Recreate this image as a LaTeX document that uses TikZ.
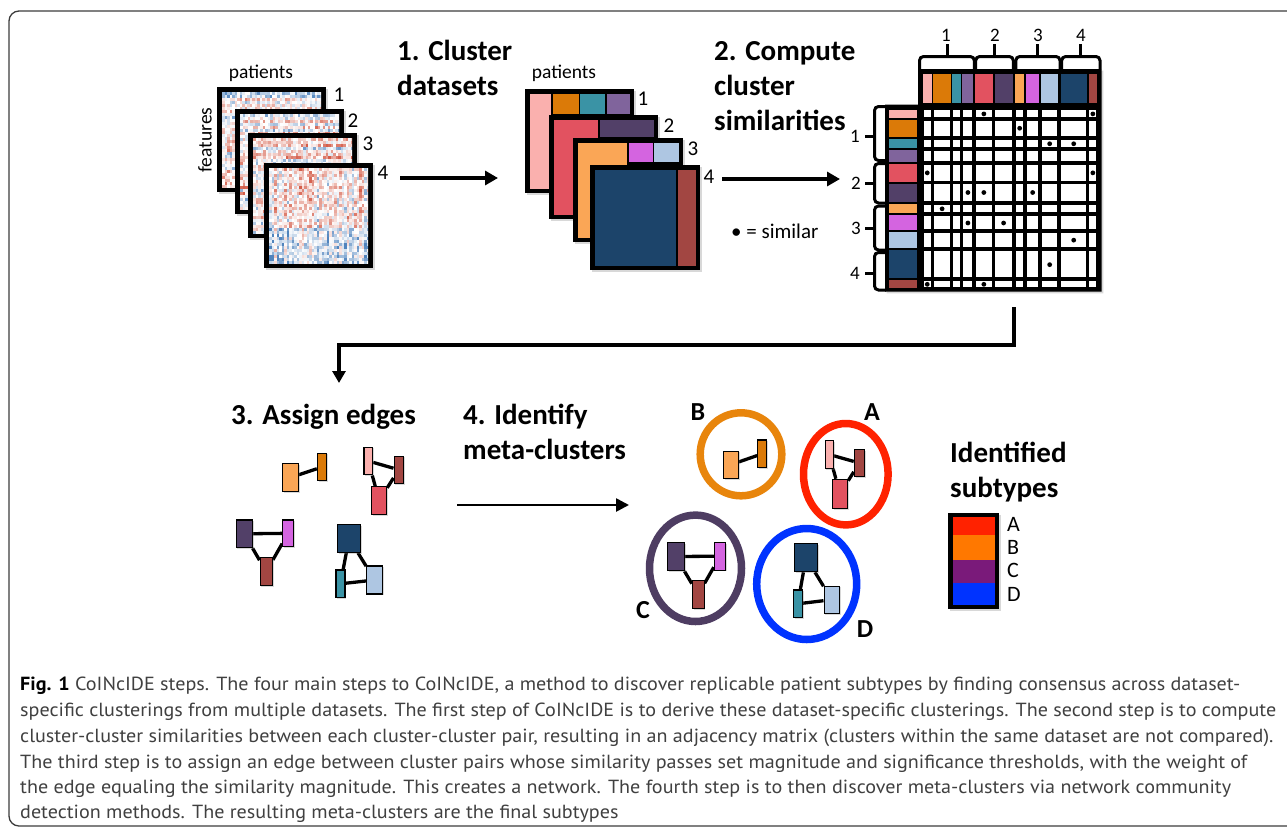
\documentclass[tikz,border=0pt]{standalone}
\usepackage{fontspec}
\setmainfont{Carlito}
\newfontfamily\capfont{PT Sans}
\usetikzlibrary{arrows.meta,shadows}
\pgfdeclarelayer{bg}
\pgfdeclarelayer{edges}
\pgfsetlayers{bg,edges,main}

\definecolor{hmred}{RGB}{205,65,42}
\definecolor{hmblue}{RGB}{50,110,178}
\definecolor{cpink}{RGB}{250,176,174}
\definecolor{corange}{RGB}{219,122,8}
\definecolor{cteal}{RGB}{58,147,165}
\definecolor{cpurple}{RGB}{128,100,156}
\definecolor{cred}{RGB}{226,82,96}
\definecolor{cdpurple}{RGB}{82,64,104}
\definecolor{clorange}{RGB}{250,166,86}
\definecolor{cmagenta}{RGB}{212,100,224}
\definecolor{clblue}{RGB}{174,198,226}
\definecolor{cnavy}{RGB}{28,68,106}
\definecolor{cbrown}{RGB}{162,70,66}
\definecolor{ringA}{RGB}{255,34,0}
\definecolor{ringB}{RGB}{232,133,12}
\definecolor{ringC}{RGB}{78,61,98}
\definecolor{ringD}{RGB}{0,51,255}
\definecolor{legA}{RGB}{255,34,0}
\definecolor{legB}{RGB}{255,120,0}
\definecolor{legC}{RGB}{122,26,122}
\definecolor{legD}{RGB}{0,51,255}
\definecolor{captxt}{RGB}{64,64,64}
\definecolor{framec}{RGB}{60,60,60}

\newlength\capw

% heatmap with row streaks (interior 99 x 95)
\newcommand{\heatrows}[2]{%
  \begin{scope}
    \clip (#1,#2) rectangle ++(99,95);
    \foreach \rr in {0,...,31}{%
      \pgfmathsetmacro\rb{0.5*rand+0.05}%
      \foreach \cc in {0,...,39}{%
        \pgfmathsetmacro\hv{\rb+0.6*rand}%
        \pgfmathtruncatemacro\hp{min(85,48*abs(\hv)+28*\hv*\hv)}%
        \ifdim\hv pt>0pt\def\hc{hmred}\else\def\hc{hmblue}\fi
        \fill[\hc!\hp!white] ({#1+2.5*\cc},{#2+3*\rr}) rectangle ++(2.7,3.2);
      }%
    }%
  \end{scope}%
}
% heatmap with column streaks
\newcommand{\heatcols}[2]{%
  \begin{scope}
    \clip (#1,#2) rectangle ++(99,95);
    \foreach \cc in {0,...,39}{%
      \pgfmathsetmacro\cb{0.45*rand}%
      \foreach \rr in {0,...,31}{%
        \pgfmathsetmacro\hv{\cb+0.6*rand+0.15-0.5*(\rr>19)}%
        \pgfmathtruncatemacro\hp{min(85,48*abs(\hv)+28*\hv*\hv)}%
        \ifdim\hv pt>0pt\def\hc{hmred}\else\def\hc{hmblue}\fi
        \fill[\hc!\hp!white] ({#1+2.5*\cc},{#2+3*\rr}) rectangle ++(2.7,3.2);
      }%
    }%
  \end{scope}%
}

\tikzset{
  arr/.style={line width=3.2pt, -{Triangle[length=13pt,width=14pt]}},
  shd/.style={drop shadow={shadow xshift=1.6pt,shadow yshift=-1.6pt,opacity=0.3}},
  clu/.style 2 args={draw=black, line width=1.1pt, inner sep=0pt, minimum width=#1pt, minimum height=#2pt,
    drop shadow={shadow xshift=1.2pt,shadow yshift=-1.2pt,opacity=0.3}},
  nlink/.style={line width=3.3pt, black},
  steplbl/.style={font=\fontsize{29}{34}\selectfont\bfseries, anchor=base west, inner sep=0pt},
  smalltxt/.style={font=\fontsize{19.5}{23}\selectfont, inner sep=0pt},
  numtxt/.style={font=\fontsize{21}{25}\selectfont, inner sep=0pt},
  mtxnum/.style={font=\fontsize{19}{23}\selectfont, inner sep=0pt},
  metalbl/.style={font=\fontsize{26}{30}\selectfont\bfseries, inner sep=0pt},
  legtxt/.style={font=\fontsize{22}{26}\selectfont, anchor=west, inner sep=0pt},
  captext/.style={font=\capfont\fontsize{19}{22}\selectfont, text=captxt, anchor=base west, inner sep=0pt},
  brk/.style={line width=3pt, rounded corners=4pt},
  ring/.style={line width=7.5pt},
}

\begin{document}
\settowidth{\capw}{\capfont\fontsize{19}{22}\selectfont specific clusterings from multiple datasets. The first step of CoINcIDE is to derive these dataset-specific clusterings. The second step is to compute}%
\pgfmathsetmacro\capsf{1256/\capw}%
\begin{tikzpicture}[x=1pt,y=-1pt]
\useasboundingbox (0,0) rectangle (1287,828);
\begin{pgfonlayer}{bg}
  \fill[white] (0,0) rectangle (1287,828);
\end{pgfonlayer}
\pgfmathsetseed{23}

% outer frame
\draw[framec, line width=1.3pt, rounded corners=10pt] (1300,11) -- (9,11) -- (9,826) -- (1300,826);

% ---------- step 0: heatmaps ----------
\fill[black, shd] (217,87) rectangle ++(109,105);
\heatrows{222}{92}
\fill[black, shd] (235,109) rectangle ++(109,105);
\heatrows{240}{114}
\fill[black, shd] (248,133) rectangle ++(109,105);
\heatrows{253}{138}
\fill[black, shd] (264,163) rectangle ++(109,105);
\heatcols{269}{168}

\node[smalltxt] (pat1) at (261,73) {patients};
\node[smalltxt, rotate=90] (feat) at (205,140) {features};
\node[numtxt] (h1) at (339,95) {1};
\node[numtxt] (h2) at (353,121) {2};
\node[numtxt] (h3) at (368,144) {3};
\node[numtxt] (h4) at (383,173) {4};

% ---------- step 1: clustered datasets ----------
\fill[black, shd] (525,89) rectangle (634,193);
\fill[cpink] (529.5,93.5) rectangle (551.3,189);
\fill[corange] (552.5,93.5) rectangle (579,114);
\fill[cteal] (580.3,93.5) rectangle (605.3,114);
\fill[cpurple] (606.7,93.5) rectangle (629.5,114);

\fill[black, shd] (549,115) rectangle (658,219);
\fill[cred] (553.5,119.5) rectangle (598.3,215);
\fill[cdpurple] (599.8,119.5) rectangle (653.5,137.3);

\fill[black, shd] (573,138) rectangle (683,242);
\fill[clorange] (577.5,142.5) rectangle (627.3,238);
\fill[cmagenta] (628.7,142.5) rectangle (652.7,161.7);
\fill[clblue] (654,142.5) rectangle (678.5,161.7);

\fill[black, shd] (590,165) rectangle (700,270);
\fill[cnavy] (594.5,169.5) rectangle (676,265.5);
\fill[cbrown] (677.5,169.5) rectangle (695.5,265.5);

\node[smalltxt] (pat2) at (564,73) {patients};
\node[numtxt] (c1) at (643,99) {1};
\node[numtxt] (c2) at (669,126) {2};
\node[numtxt] (c3) at (693,149) {3};
\node[numtxt] (c4) at (709,177) {4};

% step labels
\node[steplbl] (s1a) at (397,60) {1. Cluster};
\node[steplbl] (s1b) at (397,95) {datasets};
\node[steplbl] (s2a) at (714,60) {2. Compute};
\node[steplbl] (s2b) at (714,95) {cluster};
\node[steplbl] (s2c) at (714,130) {similarities};

% arrows step 1 and 2
\coordinate (a1s) at (400,178);
\coordinate (a1e) at (498,178);
\draw[arr] (a1s) -- (a1e);
\coordinate (a2s) at (722,179);
\coordinate (a2e) at (840,179);
\draw[arr] (a2s) -- (a2e);

\node[smalltxt, font=\fontsize{21}{25}\selectfont, anchor=west] (simlbl) at (731,231) {• = similar};

% ---------- step 2: similarity matrix ----------
\fill[black, shd] (918,69) -- (1101.7,69) -- (1101.7,291.7) -- (885,291.7) -- (885,104.5) -- (918,104.5) -- cycle;
\foreach \a/\b/\c in {923/931.5/cpink, 933.4/950.7/corange, 952.4/960.7/cteal, 962.4/973.3/cpurple,
                      975/992.7/cred, 994.5/1012.7/cdpurple, 1014.9/1024.3/clorange, 1026/1039.3/cmagenta,
                      1041/1058.3/clblue, 1060.5/1086.7/cnavy, 1088.5/1097/cbrown}{
  \fill[\c] (\a,74) rectangle (\b,103.3);
  \foreach \p/\q in {109.5/118.3, 120/137, 139.3/148.3, 150/161.7, 163.8/181.7, 183.5/201.7,
                     203.8/213.3, 215.3/230, 232/248.3, 250.3/278.3, 280.3/288.3}{
    \fill[white] ({\a+0.9},{\p+0.9}) rectangle ({\b-0.9},{\q-0.9});
  }
}
\foreach \p/\q/\c in {109.5/118.3/cpink, 120/137/corange, 139.3/148.3/cteal, 150/161.7/cpurple,
                      163.8/181.7/cred, 183.5/201.7/cdpurple, 203.8/213.3/clorange, 215.3/230/cmagenta,
                      232/248.3/clblue, 250.3/278.3/cnavy, 280.3/288.3/cbrown}{
  \fill[\c] (889.3,\p) rectangle (917.3,\q);
}
% dots
\foreach \x/\y in {983.85/113.9, 1092.85/113.9, 1019.65/128.25, 1049.65/143.75, 1073.7/143.75,
                   927.25/172.85, 1092.85/172.85, 967.9/192.5, 983.85/192.5, 1032.65/192.5,
                   942.1/208.8, 967.9/223, 1003.6/223, 1073.7/240.15, 1049.65/264.65,
                   927.25/284.3, 983.85/284.3}{
  \fill[black] (\x,\y) circle[radius=2.4];
}
% top brackets
\foreach \u/\v/\m in {919.5/974.3/947, 975.7/1013.3/994, 1015.8/1060/1037.5, 1061.7/1100/1080}{
  \draw[brk] (\u,69) -- (\u,56.5) -- (\v,56.5) -- (\v,69);
  \draw[line width=3pt] (\m,57) -- (\m,44);
}
% left brackets
\foreach \u/\v/\m in {106.5/160.5/136, 163.5/203/183, 206/250/228, 252.5/290/273}{
  \draw[brk] (886,\u) -- (874.5,\u) -- (874.5,\v) -- (886,\v);
  \draw[line width=3pt] (875,\m) -- (865,\m);
}
\node[mtxnum] (t1) at (946,35) {1};
\node[mtxnum] (t2) at (995,35) {2};
\node[mtxnum] (t3) at (1038,35) {3};
\node[mtxnum] (t4) at (1081,35) {4};
\node[mtxnum] (l1) at (855,136) {1};
\node[mtxnum] (l2) at (856,183) {2};
\node[mtxnum] (l3) at (856,228) {3};
\node[mtxnum] (l4) at (855,273) {4};

% bent arrow
\coordinate (bs) at (1014,307);
\coordinate (be) at (339,383);
\draw[line width=3.2pt, -{Triangle[length=12pt,width=13pt]}] (bs) -- ++(0,38) -| (be);

% ---------- step 3 ----------
\node[steplbl] (s3) at (231,424) {3. Assign edges};
\node[steplbl] (s4a) at (463,424) {4. Identify};
\node[steplbl] (s4b) at (463,459) {meta-clusters};

\node[clu={15.6}{28.4}, fill=clorange] (lo1) at (290.5,477.5) {};
\node[clu={9.4}{27.7}, fill=corange] (or1) at (322,467) {};
\node[clu={8.7}{27.7}, fill=cpink] (pk1) at (368.3,461) {};
\node[clu={9.3}{27.3}, fill=cbrown] (br1) at (398.7,469.7) {};
\node[clu={15}{27.6}, fill=cred] (rd1) at (379.2,500.5) {};
\node[clu={16.3}{27.7}, fill=cdpurple] (dp1) at (244.2,533.8) {};
\node[clu={10.6}{26.7}, fill=cmagenta] (mg1) at (288,533.3) {};
\node[clu={12.3}{28}, fill=cbrown] (br2) at (266.2,571.7) {};
\node[clu={23.4}{28}, fill=cnavy] (nv1) at (349,538.3) {};
\node[clu={9}{27.7}, fill=cteal] (tl1) at (340.5,583.8) {};
\node[clu={16}{28}, fill=clblue] (lb1) at (374.7,580) {};
\begin{pgfonlayer}{edges}
  \draw[nlink] (lo1) -- (or1);
  \draw[nlink] (pk1) -- (br1);
  \draw[nlink] (pk1) -- (rd1);
  \draw[nlink] (br1) -- (rd1);
  \draw[nlink] (dp1) -- (mg1);
  \draw[nlink] (dp1) -- (br2);
  \draw[nlink] (mg1) -- (br2);
  \draw[nlink] (nv1) -- (tl1);
  \draw[nlink] (nv1) -- (lb1);
  \draw[nlink] (tl1) -- (lb1);
\end{pgfonlayer}

% arrow step 3 -> 4
\coordinate (a3s) at (457,505);
\coordinate (a3e) at (629,505);
\draw[line width=2.6pt, -{Triangle[length=13pt,width=13pt]}] (a3s) -- (a3e);

% ---------- step 4: meta-clusters ----------
\draw[ring, ringB] (741,454.3) ellipse [x radius=40.8, y radius=41.5];
\draw[ring, ringA] (845.8,474.2) ellipse [x radius=42.3, y radius=50.7];
\draw[ring, ringC] (695.5,568.3) ellipse [x radius=46, y radius=53.2];
\draw[ring, ringD] (806.7,584) ellipse [x radius=50, y radius=55.5];

\node[clu={15}{27.3}, fill=clorange] (lo2) at (730.8,464.7) {};
\node[clu={9}{27.7}, fill=corange] (or2) at (762.2,453.8) {};
\node[clu={8.3}{27.7}, fill=cpink] (pk2) at (829.2,454.5) {};
\node[clu={10}{27.4}, fill=cbrown] (br3) at (859.3,463) {};
\node[clu={15.4}{29}, fill=cred] (rd2) at (840,493.8) {};
\node[clu={17}{28.4}, fill=cdpurple] (dp2) at (675.8,556.5) {};
\node[clu={11.4}{27.7}, fill=cmagenta] (mg2) at (720,556.2) {};
\node[clu={11.7}{27.6}, fill=cbrown] (br4) at (698.2,594.5) {};
\node[clu={23.4}{28.4}, fill=cnavy] (nv2) at (806,557.5) {};
\node[clu={9}{27.7}, fill=cteal] (tl2) at (797.8,603.8) {};
\node[clu={15.3}{27.3}, fill=clblue] (lb2) at (831.7,599.7) {};
\begin{pgfonlayer}{edges}
  \draw[nlink] (lo2) -- (or2);
  \draw[nlink] (pk2) -- (br3);
  \draw[nlink] (pk2) -- (rd2);
  \draw[nlink] (br3) -- (rd2);
  \draw[nlink] (dp2) -- (mg2);
  \draw[nlink] (dp2) -- (br4);
  \draw[nlink] (mg2) -- (br4);
  \draw[nlink] (nv2) -- (tl2);
  \draw[nlink] (nv2) -- (lb2);
  \draw[nlink] (tl2) -- (lb2);
\end{pgfonlayer}

\node[metalbl] (mB) at (698,412) {B};
\node[metalbl] (mA) at (872,412) {A};
\node[metalbl] (mC) at (643,610) {C};
\node[metalbl] (mD) at (865,629) {D};

% ---------- legend ----------
\node[steplbl] (id1) at (950,462) {Identified};
\node[steplbl] (id2) at (950,497) {subtypes};
\fill[black, shd] (948,513) rectangle (999,609);
\fill[legA] (952.5,517.3) rectangle (994.5,535);
\fill[legB] (952.5,535) rectangle (994.5,560);
\fill[legC] (952.5,560) rectangle (994.5,583.3);
\fill[legD] (952.5,583.3) rectangle (994.5,605);
\node[legtxt] (lA) at (1007,524) {A};
\node[legtxt] (lB) at (1007,547) {B};
\node[legtxt] (lC) at (1007,570) {C};
\node[legtxt] (lD) at (1007,594) {D};

% ---------- caption ----------
\node[captext] (cap1) at (20,690) {\scalebox{\capsf}[1]{\textcolor{black}{\textbf{Fig. 1}} CoINcIDE steps. The four main steps to CoINcIDE, a method to discover replicable patient subtypes by finding consensus across dataset-}};
\node[captext] (cap2) at (20,716) {\scalebox{\capsf}[1]{specific clusterings from multiple datasets. The first step of CoINcIDE is to derive these dataset-specific clusterings. The second step is to compute}};
\node[captext] (cap3) at (20,742) {\scalebox{\capsf}[1]{cluster-cluster similarities between each cluster-cluster pair, resulting in an adjacency matrix (clusters within the same dataset are not compared).}};
\node[captext] (cap4) at (20,768) {\scalebox{\capsf}[1]{The third step is to assign an edge between cluster pairs whose similarity passes set magnitude and significance thresholds, with the weight of}};
\node[captext] (cap5) at (20,793) {\scalebox{\capsf}[1]{the edge equaling the similarity magnitude. This creates a network. The fourth step is to then discover meta-clusters via network community}};
\node[captext] (cap6) at (20,818) {\scalebox{\capsf}[1]{detection methods. The resulting meta-clusters are the final subtypes}};
\end{tikzpicture}
\end{document}
